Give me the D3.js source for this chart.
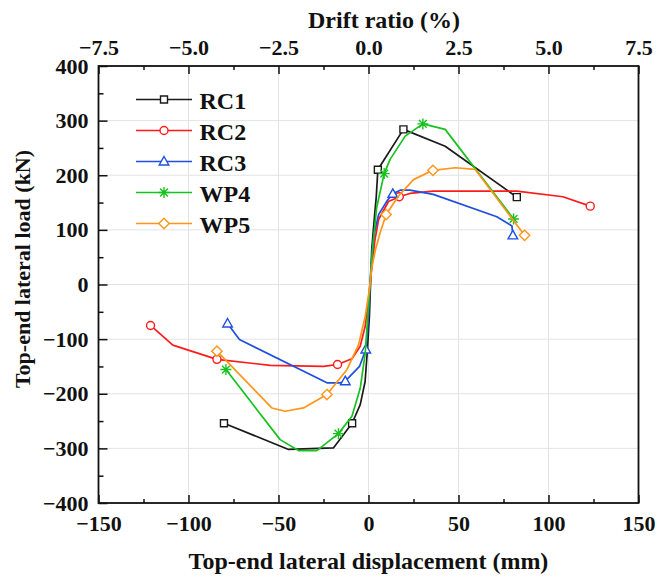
<!DOCTYPE html>
<html>
<head>
<meta charset="utf-8">
<script src="https://cdn.jsdelivr.net/npm/d3@7"></script>
</head>
<body style="margin:0">
<script>
// values: displacement (mm) and load (kN)
const rc1Disp = [-80.3, -44.4, -19.4, -9.1, -4.6, -1.9, -0.6, 0.5, 1.8, 3.2, 4.3, 5.2, 7.1, 19.4, 42.6, 82.4];
const rc1Load = [-254, -302, -299, -254, -220, -178, -120, -58, 64, 120, 160, 210, 220, 284, 253, 160];
const rc1Marks = [0, 3, 11, 13, 15];

const rc2Disp = [-121.1, -108.7, -84.2, -54.6, -25, -17.2, -9.2, -4.6, -1.8, 0, 1.3, 3.5, 5.6, 11.1, 17.1, 23, 36, 82.4, 108, 123.2];
const rc2Load = [-75, -111, -137, -148, -150, -146.5, -136, -113, -76, -27, 15, 80, 119, 152, 160.6, 166.7, 171, 171, 160.6, 143.4];
const rc2Marks = [0, 2, 5, 14, 19];

const rc3Disp = [-78.3, -71.7, -23.1, -15.7, -12.9, -5, -1.5, -0.6, 0.5, 1.4, 3, 5.6, 10.2, 13.5, 17.6, 23, 36, 71.3, 79.7, 80.2];
const rc3Load = [-71.4, -100.7, -180, -180, -177, -150, -119, -88, -27, 33, 90, 128, 152.6, 166, 172.7, 172.7, 165, 124, 107, 90];
const rc3Marks = [0, 4, 6, 13, 19];

const wp4Disp = [-79.2, -49.1, -38.9, -28.7, -16.7, -9.2, -4.6, -1.8, -0.4, 0.9, 2.2, 4.5, 8.7, 12, 20.4, 30.2, 42.6, 80.6];
const wp4Load = [-155.7, -284, -304, -304, -273, -241, -190, -125, -58, 3, 64, 140, 203, 229, 271.6, 294, 284, 120];
const wp4Marks = [0, 4, 12, 15, 17];

const wp5Disp = [-84.2, -53.7, -46.3, -36.1, -23.1, -12, -5.5, -1.8, 0.5, 1.9, 3.9, 6.5, 9.8, 16.7, 25, 35.8, 48.2, 59.3, 86.7];
const wp5Load = [-122, -226, -232, -226, -201.5, -156, -110, -58, -9, 33, 64, 95, 128, 162, 192, 209, 213.7, 210.6, 90];
const wp5Marks = [0, 4, 12, 15, 18];

const seriesNames = ["RC1", "RC2", "RC3", "WP4", "WP5"];
const xTicks = [-150, -100, -50, 0, 50, 100, 150];
const yTicks = [-400, -300, -200, -100, 0, 100, 200, 300, 400];
const driftTicks = [-7.5, -5.0, -2.5, 0.0, 2.5, 5.0, 7.5];

const series = [
  {name: seriesNames[0], disp: rc1Disp, load: rc1Load, marks: rc1Marks, color: "#1a1a1a", shape: "square"},
  {name: seriesNames[1], disp: rc2Disp, load: rc2Load, marks: rc2Marks, color: "#ff1a1a", shape: "circle"},
  {name: seriesNames[2], disp: rc3Disp, load: rc3Load, marks: rc3Marks, color: "#1f4fe0", shape: "triangle"},
  {name: seriesNames[3], disp: wp4Disp, load: wp4Load, marks: wp4Marks, color: "#17c21f", shape: "star"},
  {name: seriesNames[4], disp: wp5Disp, load: wp5Load, marks: wp5Marks, color: "#ff951a", shape: "diamond"}
];

const FONT = "'Liberation Serif'";
const W = 661, H = 577;
const margin = {top: 66, right: 22.5, bottom: 74, left: 98.5};
const width = W - margin.left - margin.right,
      height = H - margin.top - margin.bottom;

const x = d3.scaleLinear().domain([-150, 150]).range([0, width]);
const xTop = d3.scaleLinear().domain([-7.5, 7.5]).range([0, width]);
const y = d3.scaleLinear().domain([-400, 400]).range([height, 0]);

const svg = d3.select("body").append("svg")
  .attr("width", W)
  .attr("height", H);

// text is set at double size and scaled down by half
function serifText(sel, size, base) {
  sel.each(function() {
    const t = d3.select(this);
    const tx = +t.attr("x") || 0, ty = +t.attr("y") || 0;
    t.attr("x", tx * 2).attr("y", ty * 2)
      .attr("transform", (base ? base + " " : "") + "scale(0.5)");
  });
  return sel.attr("fill", "#111")
    .style("font-family", FONT)
    .style("font-weight", "bold")
    .style("font-size", (size * 2) + "px");
}

const plot = svg.append("g")
  .attr("transform", "translate(" + margin.left + "," + margin.top + ")");

// grid
plot.append("g").selectAll("line")
  .data(xTicks.slice(1, -1))
  .join("line")
  .attr("x1", d => x(d)).attr("x2", d => x(d))
  .attr("y1", 0).attr("y2", height)
  .attr("stroke", "#e3e3e3").attr("stroke-width", 1);
plot.append("g").selectAll("line")
  .data(yTicks.slice(1, -1))
  .join("line")
  .attr("y1", d => y(d)).attr("y2", d => y(d))
  .attr("x1", 0).attr("x2", width)
  .attr("stroke", "#e3e3e3").attr("stroke-width", 1);

const minus = s => String(s).replace("-", "\u2212");

// axes (ticks point inside)
const xAxis = d3.axisBottom(x).tickValues(xTicks).tickSize(-8).tickPadding(12)
  .tickFormat(d => minus(d));
const xMinor = d3.axisBottom(x).tickValues(d3.range(-125, 150, 50)).tickSize(-4).tickFormat("");
const topAxis = d3.axisTop(xTop).tickValues(driftTicks).tickSize(-8).tickPadding(11)
  .tickFormat(d => minus(d3.format(".1f")(d)));
const topMinor = d3.axisTop(xTop).tickValues(d3.range(-6.25, 7.5, 2.5)).tickSize(-4).tickFormat("");
const yAxis = d3.axisLeft(y).tickValues(yTicks).tickSize(-9).tickPadding(10)
  .tickFormat(d => minus(d));
const yMinor = d3.axisLeft(y).tickValues(d3.range(-350, 400, 100)).tickSize(-5).tickFormat("");

function styleAxis(g) {
  g.attr("font-family", null).attr("font-size", null);
  g.select(".domain").remove();
  g.selectAll("line").attr("stroke", "#111").attr("stroke-width", 1.5);
  g.selectAll("text").call(serifText, 22);
}

plot.append("g").attr("transform", "translate(0," + height + ")").call(xAxis).call(styleAxis);
plot.append("g").attr("transform", "translate(0," + height + ")").call(xMinor).call(styleAxis);
plot.append("g").call(topAxis).call(styleAxis);
plot.append("g").call(topMinor).call(styleAxis);
plot.append("g").call(yAxis).call(styleAxis);
plot.append("g").call(yMinor).call(styleAxis);

// frame
plot.append("rect")
  .attr("width", width).attr("height", height)
  .attr("fill", "none").attr("stroke", "#111").attr("stroke-width", 1.8);

// marker shapes
function markerPath(shape) {
  switch (shape) {
    case "square": return "M-3.5,-3.5H3.5V3.5H-3.5Z";
    case "circle": return "M4,0A4,4 0 1,1 -4,0A4,4 0 1,1 4,0Z";
    case "triangle": return "M0,-5L4.8,3.5H-4.8Z";
    case "diamond": return "M0,-5.2L5.2,0L0,5.2L-5.2,0Z";
    case "star": return "M0,-5.5V5.5M-5.5,0H5.5M-3.9,-3.9L3.9,3.9M-3.9,3.9L3.9,-3.9";
  }
}

const line = d3.line().x(d => x(d[0])).y(d => y(d[1]));

series.forEach(s => {
  const pts = s.disp.map((d, i) => [d, s.load[i]]);
  const g = plot.append("g").attr("class", "series");
  g.append("path")
    .datum(pts)
    .attr("d", line)
    .attr("fill", "none")
    .attr("stroke", s.color)
    .attr("stroke-width", 1.7)
    .attr("stroke-linejoin", "round");
  g.selectAll("path.mk")
    .data(s.marks.map(i => pts[i]))
    .join("path")
    .attr("class", "mk")
    .attr("transform", d => "translate(" + x(d[0]) + "," + y(d[1]) + ")")
    .attr("d", markerPath(s.shape))
    .attr("fill", s.shape === "star" ? "none" : "#fff")
    .attr("stroke", s.color)
    .attr("stroke-width", 1.4);
});

// legend
const legend = svg.append("g").attr("transform", "translate(136,99.5)");
const rows = legend.selectAll("g")
  .data(series)
  .join("g")
  .attr("transform", (d, i) => "translate(0," + i * 31 + ")");
rows.append("line")
  .attr("x1", 0).attr("x2", 56)
  .attr("stroke", d => d.color).attr("stroke-width", 1.7);
rows.append("path")
  .attr("transform", "translate(28,0)")
  .attr("d", d => markerPath(d.shape))
  .attr("fill", d => d.shape === "star" ? "none" : "#fff")
  .attr("stroke", d => d.color)
  .attr("stroke-width", 1.4);
rows.append("text")
  .attr("x", 63.5).attr("y", 9)
  .text(d => d.name)
  .call(serifText, 24);

// titles
svg.append("text")
  .attr("x", margin.left + width / 2).attr("y", 569)
  .attr("text-anchor", "middle")
  .text("Top-end lateral displacement (mm)")
  .call(serifText, 24);
svg.append("text")
  .attr("x", 384).attr("y", 28)
  .attr("text-anchor", "middle")
  .text("Drift ratio (%)")
  .call(serifText, 24);
svg.append("text")
  .attr("text-anchor", "middle")
  .text("Top-end lateral load (kN)")
  .call(serifText, 22, "translate(30,269) rotate(-90)");
</script>
</body>
</html>
